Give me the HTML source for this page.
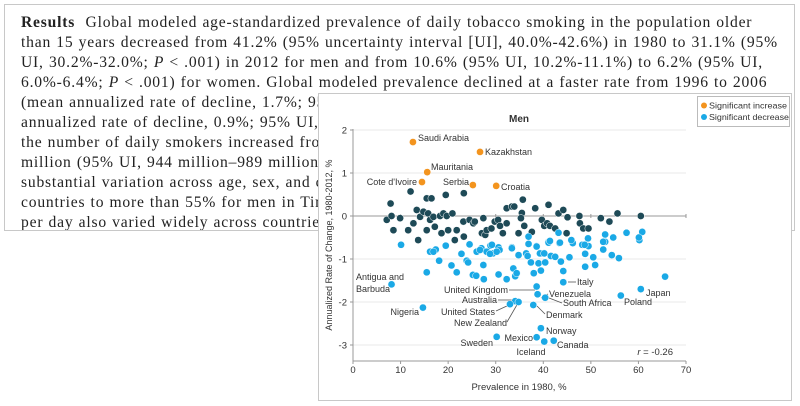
<!DOCTYPE html>
<html><head><meta charset="utf-8"><style>
html,body{margin:0;padding:0;background:#fff;width:800px;height:406px;overflow:hidden;position:relative}
#txt{position:absolute;left:4px;top:4px;width:791px;height:227px;border:1px solid #c8c8c8;box-sizing:border-box;background:#fff;overflow:hidden}
#txt div{position:absolute;left:16px;white-space:nowrap;font-family:"Liberation Serif",serif;font-size:15.6px;letter-spacing:0.8px;word-spacing:0.5px;color:#222}
svg{position:absolute;left:0;top:0}
svg text{font-family:"Liberation Sans Narrow","Liberation Sans",sans-serif;fill:#333}
</style></head><body>
<div id="txt">
<div style="top:9px"><b>Results</b>&nbsp; Global modeled age-standardized prevalence of daily tobacco smoking in the population older</div>
<div style="top:29px">than 15 years decreased from 41.2% (95% uncertainty interval [UI], 40.0%-42.6%) in 1980 to 31.1% (95%</div>
<div style="top:49px">UI, 30.2%-32.0%; <i>P</i> &lt; .001) in 2012 for men and from 10.6% (95% UI, 10.2%-11.1%) to 6.2% (95% UI,</div>
<div style="top:69px">6.0%-6.4%; <i>P</i> &lt; .001) for women. Global modeled prevalence declined at a faster rate from 1996 to 2006</div>
<div style="top:89px">(mean annualized rate of decline, 1.7%; 95% UI, 1.5%-2.0%) than from 2006 to 2012 (mean</div>
<div style="top:109px">annualized rate of decline, 0.9%; 95% UI, 0.5%-1.3%). Because of population growth,</div>
<div style="top:129px">the number of daily smokers increased from 721 million in 1980 to 967</div>
<div style="top:149px">million (95% UI, 944 million–989 million; <i>P</i> &lt; .001) in 2012. There was</div>
<div style="top:169px">substantial variation across age, sex, and countries, with rates below 5% in some</div>
<div style="top:189px">countries to more than 55% for men in Timor-Leste and Indonesia. The number of cigarettes</div>
<div style="top:209px">per day also varied widely across countries and was</div>
</div>
<svg id="chart" width="800" height="406">
<rect x="318.5" y="93.5" width="473" height="307" fill="#fff" stroke="#c8c8c8"/>
<g id="grid"></g><g id="axes"></g><g id="leaders" stroke="#555" stroke-width="0.8" fill="none"></g><g id="dots"></g><g id="labels"></g>
<text x="519" y="122" text-anchor="middle" font-size="10" font-weight="bold">Men</text>
<text transform="translate(332,245) rotate(-90)" text-anchor="middle" font-size="9">Annualized Rate of Change, 1980-2012, %</text>
<text x="519" y="390" text-anchor="middle" font-size="9.5">Prevalence in 1980, %</text>
<text x="673" y="355" text-anchor="end" font-size="9.5"><tspan font-style="italic">r</tspan> = -0.26</text>
<g>
<rect x="697.5" y="96.5" width="92" height="30" fill="#fff" stroke="#bbb"/>
<circle cx="704" cy="105.5" r="3" fill="#f3941e"/><text x="709" y="108.5" font-size="8.5" textLength="78" lengthAdjust="spacingAndGlyphs">Significant increase</text>
<circle cx="704" cy="117" r="3" fill="#1aa9e6"/><text x="709" y="120" font-size="8.5" textLength="80" lengthAdjust="spacingAndGlyphs">Significant decrease</text>
</g>
</svg>
<script>
const xTicks=[0,10,20,30,40,50,60,70];
const yTicks=[2,1,0,-1,-2,-3];
const incX=[12.6,26.7,15.6,14.5,25.2,30.1];
const incY=[1.72,1.49,1.02,0.79,0.72,0.70];
const nsX=[12.1,7.9,7.1,8.1,8.5,9.9,11.6,12.7,13.4,14.1,13.7,15.5,15.5,16.5,14.8,15.8,16.2,16.9,17.2,18.3,19.0,19.7,19.5,18.6,20.0,20.9,21.8,21.4,23.3,23.2,23.3,24.5,25.3,25.6,27.4,27.1,27.8,28.1,29.1,29.8,30.5,30.9,31.5,32.3,33.4,33.9,32.3,34.8,35.5,35.7,35.3,36.0,37.6,38.3,39.7,40.2,41.1,40.8,41.4,42.5,43.2,44.2,44.9,45.1,47.6,47.7,48.4,49.5,52.1,53.9,55.6,60.5];
const nsY=[0.57,0.29,-0.09,0.0,-0.33,-0.05,-0.33,-0.17,0.14,-0.02,-0.56,-0.33,0.41,0.41,0.10,0.06,-0.09,-0.02,-0.25,0.0,0.06,0.0,0.49,-0.40,-0.33,0.06,-0.33,-0.56,0.53,-0.13,-0.48,-0.09,-0.17,-0.13,-0.05,-0.40,-0.44,-0.33,-0.29,-0.13,-0.09,-0.23,-0.40,0.18,0.22,0.22,-0.17,-0.40,0.07,0.38,-0.05,-0.23,-0.37,0.18,-0.09,-0.23,0.26,-0.17,-0.23,-0.29,0.06,0.14,-0.40,-0.03,0.0,-0.17,-0.29,-0.29,-0.05,-0.13,0.06,0.0];
const decX=[10.1,16.2,17.4,19.5,18.1,15.5,20.7,21.8,22.8,23.9,24.2,24.5,25.2,25.9,27.0,27.4,27.5,28.1,28.9,29.4,30.6,30.8,30.6,32.3,33.4,33.7,34.1,34.4,34.8,36.4,36.7,36.9,37.4,38.0,38.6,39.0,39.3,39.5,40.2,40.4,41.1,41.6,42.5,43.4,43.7,44.2,45.5,46.2,48.2,48.8,48.8,49.5,50.5,50.9,52.6,53.0,54.4,55.9,65.6,60.2,57.5,60.8,60.1,53.0,52.6,54.7,49.4,48.7,45.9,43.2,36.9,33.4,41.1,41.4,43.5,38.6,16.9,26.0,26.7,29.2,28.1,28.8,30.2,
8.1,14.7,30.2,34.1,33.0,34.8,38.6,38.8,40.4,37.9,44.2,60.5,56.3,39.5,38.6,40.2,42.2];
const decY=[-0.67,-0.83,-0.78,-0.69,-1.04,-1.31,-1.15,-1.31,-0.88,-1.04,-1.08,-0.66,-1.37,-1.39,-0.75,-1.14,-1.47,-0.83,-0.69,-0.87,-0.73,-0.79,-1.36,-1.47,-0.73,-1.22,-1.40,-1.33,-0.91,-0.87,-0.93,-0.65,-1.08,-1.33,-0.70,-1.10,-0.87,-1.27,-0.87,-1.08,-0.60,-0.93,-0.95,-0.63,-1.06,-1.28,-0.96,-0.63,-0.67,-0.88,-1.18,-0.70,-0.96,-1.14,-0.78,-0.60,-0.91,-0.98,-1.41,-0.56,-0.39,-0.37,-0.50,-0.43,-0.60,-0.50,-0.52,-0.67,-0.56,-0.39,-0.48,-0.75,-0.62,-0.58,-0.62,-0.71,-0.83,-0.83,-0.79,-0.67,-0.83,-0.88,-0.83,
-1.59,-2.13,-2.81,-1.98,-2.05,-2.00,-1.64,-1.82,-1.90,-2.07,-1.54,-1.70,-1.85,-2.61,-2.82,-2.92,-2.90];
const X0=353,X1=686,XMIN=0,XMAX=70,YT=130,YMAX=2,PXY=43,YB=361;
const sx=v=>X0+(v-XMIN)/(XMAX-XMIN)*(X1-X0);
const sy=v=>YT+(YMAX-v)*PXY;
const NS="http://www.w3.org/2000/svg";
function mk(tag,attrs,parent,txt){const e=document.createElementNS(NS,tag);for(const k in attrs)e.setAttribute(k,attrs[k]);if(txt!==undefined)e.textContent=txt;parent.appendChild(e);return e;}
const grid=document.getElementById('grid'),axes=document.getElementById('axes'),dots=document.getElementById('dots'),labels=document.getElementById('labels'),leaders=document.getElementById('leaders');
yTicks.forEach(t=>{const y=sy(t);
 const g=mk('line',{x1:X0,x2:X1,y1:y,y2:y,stroke:t===0?'#999':'#e2e2e2','stroke-width':t===0?1:0.8},grid);
 
 
 mk('line',{x1:X0-3,x2:X0,y1:y,y2:y,stroke:'#999'},axes);
 const l=mk('text',{x:X0-6,y:y+3.5,'text-anchor':'end','font-size':'9.5'},axes,String(t));
 
 
});
mk('line',{x1:X0,x2:X0,y1:YT-1,y2:YB,stroke:'#999'},axes);
mk('line',{x1:X0,x2:X1,y1:YB,y2:YB,stroke:'#999'},axes);
xTicks.forEach(t=>{const x=sx(t);
 mk('line',{x1:x,x2:x,y1:YB,y2:YB+3,stroke:'#999'},axes);
 mk('line',{x1:x,x2:x,y1:sy(0)-2,y2:sy(0)+2,stroke:'#999'},axes);
 const l=mk('text',{x:x,y:YB+12,'text-anchor':'middle','font-size':'9.5'},axes,String(t));
 
 
});
function drawSeries(xs,ys,color,name){xs.forEach((v,i)=>{
 const c=mk('circle',{cx:sx(v),cy:sy(ys[i]),r:3.6,fill:color,stroke:'#fff','stroke-width':0.5},dots);
 
 
});}
drawSeries(nsX,nsY,'#1e4a57','point-not-significant');
drawSeries(decX,decY,'#1aa9e6','point-significant-decrease');
drawSeries(incX,incY,'#f3941e','point-significant-increase');
const lab=[["Saudi Arabia",418,141,"start"],["Kazakhstan",485,155,"start"],["Mauritania",431,170,"start"],["Cote d'Ivoire",417,185,"end"],["Serbia",469,185,"end"],["Croatia",501,190,"start"],
["Antigua and",356,280,"start"],["Barbuda",356,292,"start"],["Nigeria",419,315,"end"],["United Kingdom",508,293,"end"],["Australia",497,303,"end"],["United States",495,315,"end"],["New Zealand",507,326,"end"],
["Venezuela",549,297,"start"],["South Africa",563,306,"start"],["Denmark",546,318,"start"],["Italy",577,285,"start"],["Japan",646,296,"start"],["Poland",624,305,"start"],["Norway",546,334,"start"],["Mexico",533,341,"end"],["Sweden",493,346,"end"],["Iceland",531,355,"middle"],["Canada",557,348,"start"]];
lab.forEach(a=>{const t=mk('text',{x:a[1],y:a[2],'text-anchor':a[3],'font-size':'9'},labels,a[0]);
 
 });
[[509,290,535,290],[498,300,512,300],[496,311,509,305],[507,322,518,303],[548,294,541,298],[562,303,549,298],[545,314,537,306],[576,282,568,282]].forEach(l=>{mk('line',{x1:l[0],y1:l[1],x2:l[2],y2:l[3]},leaders);});
</script>
</body></html>
